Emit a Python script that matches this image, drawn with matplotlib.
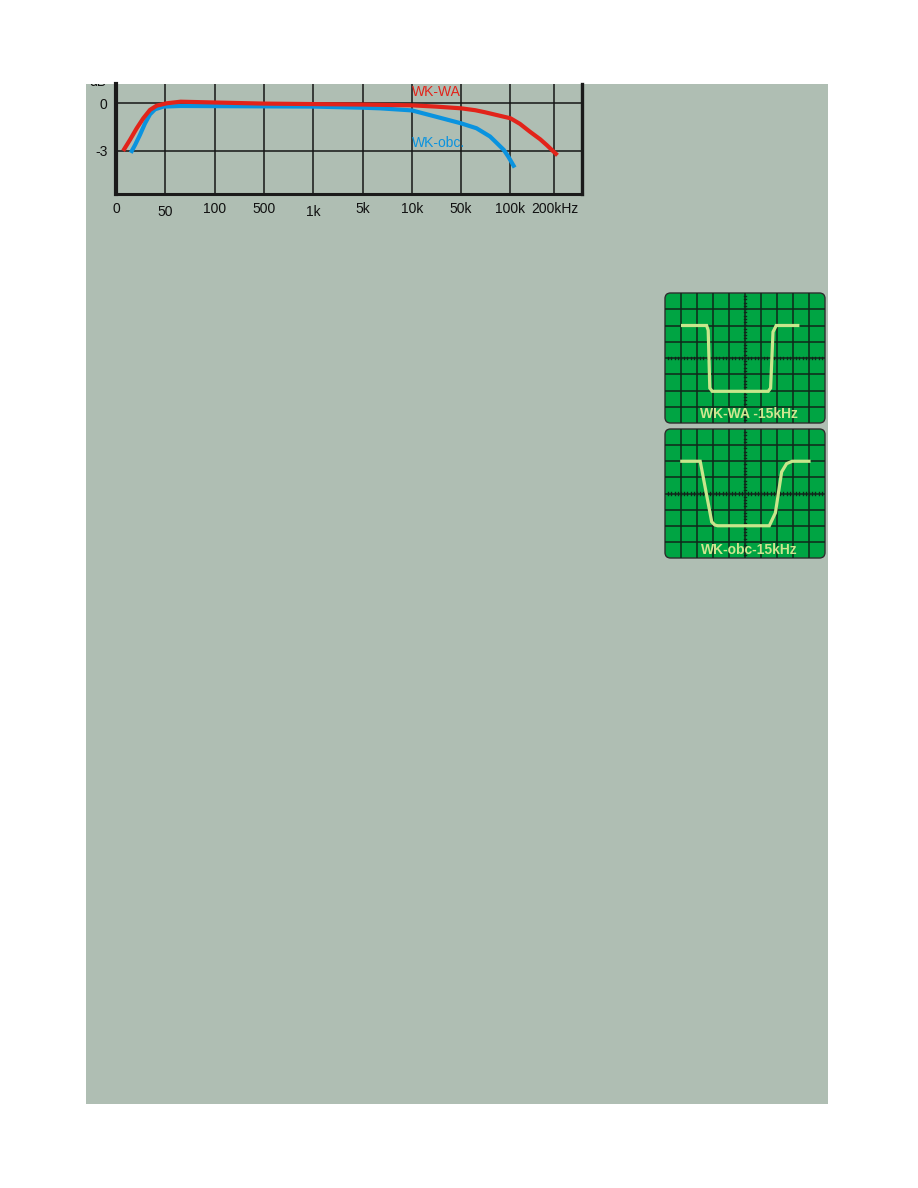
import numpy as np
import matplotlib.pyplot as plt
from matplotlib.patches import FancyBboxPatch
from matplotlib import transforms

plt.rcParams['font.family'] = ['Liberation Sans', 'DejaVu Sans']

W, H = 918, 1188

# frequency response (Hz, dB)
tick_freqs = [20, 50, 100, 500, 1e3, 5e3, 1e4, 5e4, 1e5, 2e5]
tick_labels = ['0', '50', '100', '500', '1k', '5k', '10k', '50k', '100k', '200kHz']

wa_freq = [23.3, 25.9, 29.4, 33.2, 37.6, 42.6, 51, 62, 100, 500, 1000, 5000,
           10000, 22000, 50000, 61000, 70000, 100000, 116000, 136000, 160000,
           178000, 205000]
wa_db = [-2.9, -2.32, -1.58, -0.95, -0.42, -0.15, 0.0, 0.1, 0.05, -0.02,
         -0.05, -0.08, -0.13, -0.21, -0.32, -0.44, -0.57, -0.95, -1.3,
         -1.8, -2.28, -2.66, -3.2]

obc_freq = [26.8, 28.5, 31.2, 34.3, 37.6, 41.3, 48.2, 62, 100, 1000, 5000,
            6400, 10000, 22000, 50000, 62000, 75000, 82000, 91000, 97000,
            105000]
obc_db = [-3.02, -2.64, -2.0, -1.27, -0.7, -0.38, -0.21, -0.17, -0.18, -0.21,
          -0.28, -0.32, -0.45, -0.85, -1.27, -1.58, -2.1, -2.49, -2.95,
          -3.38, -3.95]

# square wave traces (divisions)
wa_t = [-3.9, -2.4, -2.3, -2.2, -2.05, 1.45, 1.6, 1.75, 1.95, 3.3]
wa_v = [2.0, 2.0, 1.7, -1.85, -2.05, -2.05, -1.85, 1.6, 2.0, 2.0]

obc_t = [-3.95, -2.8, -2.08, -1.88, -1.7, 1.52, 1.9, 2.29, 2.6, 2.95, 4.0]
obc_v = [2.0, 2.0, -1.76, -1.96, -2.0, -2.0, -1.2, 1.34, 1.85, 2.0, 2.0]


def box(x0, y0, x1, y1):
    return [x0 / W, 1 - y1 / H, (x1 - x0) / W, (y1 - y0) / H]


fig = plt.figure(figsize=(W / 100, H / 100), dpi=100, facecolor='white')

# grey page background
bg = fig.add_axes(box(86, 84, 828, 1104))
bg.set_facecolor('#afbeb3')
bg.set_xticks([])
bg.set_yticks([])
for sp in bg.spines.values():
    sp.set_visible(False)
db = fig.text(98 / W, 1 - 85.5 / H, 'dB', fontsize=10, ha='center',
              va='baseline', color='#111111')
db.set_clip_box(bg.bbox)
db.set_clip_on(True)

# custom (non-uniform) frequency axis
POS = [0, 1, 2, 3, 4, 5, 6, 7, 8, 8.89, 9.45]
LOGF = np.log10([20, 50, 100, 500, 1e3, 5e3, 1e4, 5e4, 1e5, 2e5, 3.1e5])


def fwd(x):
    x = np.clip(np.asarray(x, dtype=float), 1e-3, None)
    return np.interp(np.log10(x), LOGF, POS)


def inv(p):
    return 10 ** np.interp(p, POS, LOGF)


ax = fig.add_axes(box(116, 84, 582, 194))
ax.set_facecolor('none')
ax.set_xscale('function', functions=(fwd, inv))
ax.set_xlim(20, 3.1e5)
ax.set_ylim(-5.74, 1.22)
ax.set_xticks(tick_freqs)
ax.set_xticklabels(tick_labels)
ax.set_yticks([0, -3])
ax.set_yticklabels(['0', '-3'])
ax.minorticks_off()
ax.grid(True, color='#161616', lw=1.1, zorder=1)
ax.tick_params(length=0, labelsize=10, labelcolor='#111111')
ax.tick_params(axis='x', pad=6)
ax.tick_params(axis='y', pad=6)
ax.spines['top'].set_visible(False)
ax.spines['left'].set_linewidth(3.0)
ax.spines['right'].set_linewidth(2.4)
ax.spines['bottom'].set_linewidth(2.2)
for k in ('left', 'right', 'bottom'):
    ax.spines[k].set_color('#1a1a1a')

ax.plot(wa_freq, wa_db, color='#e2231a', lw=3.0, zorder=3)
ax.plot(obc_freq, obc_db, color='#0a93df', lw=3.0, zorder=2)
ax.text(1e4, 0.72, 'WK-WA', color='#e2231a', fontsize=10, va='center', ha='left')
ax.text(1e4, -2.51, 'WK-obc.', color='#0a93df', fontsize=10, va='center', ha='left')

down = transforms.ScaledTranslation(0, -3 / 100, fig.dpi_scale_trans)
for lab in ax.get_xticklabels():
    if lab.get_text() in ('50', '1k'):
        lab.set_transform(lab.get_transform() + down)


def scope(rect, t, v, label, label_y):
    s = fig.add_axes(box(*rect))
    s.set_xlim(-5, 5)
    s.set_ylim(-4, 4)
    s.axis('off')
    face = FancyBboxPatch((-5, -4), 10, 8,
                          boxstyle='round,pad=0,rounding_size=0.35',
                          fc='#00a443', ec='#2e2e2e', lw=1.0, clip_on=False)
    s.add_patch(face)
    gc = '#10261a'
    for gx in range(-4, 5):
        s.plot([gx, gx], [-4, 4], color=gc, lw=1.1, clip_path=face)
    for gy in range(-3, 4):
        s.plot([-5, 5], [gy, gy], color=gc, lw=1.1, clip_path=face)
    for m in np.arange(-4.8, 4.81, 0.2):
        s.plot([m, m], [-0.08, 0.08], color=gc, lw=1.0)
        if abs(m) < 3.9:
            s.plot([-0.08, 0.08], [m, m], color=gc, lw=1.0)
    s.plot(t, v, color='#c8e68c', lw=2.3, solid_joinstyle='miter', zorder=4)
    s.text(0.25, label_y, label, color='#cde690', fontsize=10,
           fontweight='bold', ha='center', va='center', zorder=5)


scope((665, 293, 825, 423), wa_t, wa_v, 'WK-WA -15kHz', -3.42)
scope((665, 429, 825, 558), obc_t, obc_v, 'WK-obc-15kHz', -3.5)

fig.savefig('out.png', dpi=100, facecolor='white')
